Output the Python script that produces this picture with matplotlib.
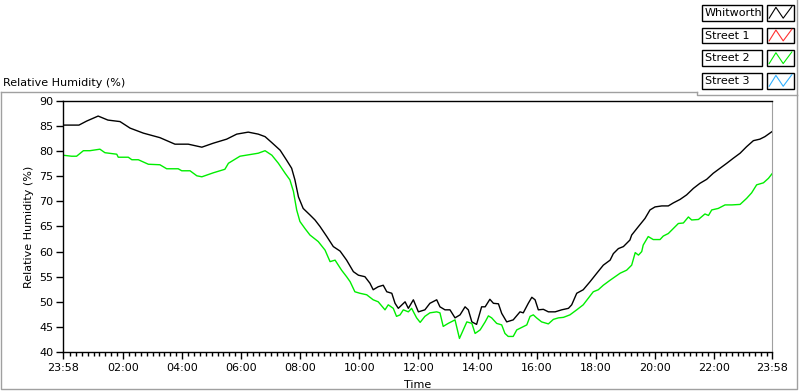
import matplotlib
matplotlib.use("Agg")
import matplotlib.pyplot as plt
from matplotlib.patches import Rectangle
from matplotlib.lines import Line2D

# hours since 23:58 (start of the record) and relative humidity (%)
whit_t = [0.00, 0.54, 0.80, 1.19, 1.52, 1.93, 2.27, 2.72, 3.28, 3.79, 4.24, 4.70,
          5.09, 5.54, 5.88, 6.27, 6.61, 6.84, 7.07, 7.35, 7.57, 7.74, 7.85, 7.97,
          8.13, 8.36, 8.53, 8.70, 8.93, 9.15, 9.38, 9.60, 9.83, 10.00, 10.22, 10.39,
          10.50, 10.67, 10.84, 10.96, 11.13, 11.24, 11.35, 11.58, 11.69, 11.86, 12.03,
          12.25, 12.42, 12.65, 12.76, 12.93, 13.10, 13.27, 13.44, 13.61, 13.72, 13.84,
          14.00, 14.17, 14.29, 14.45, 14.57, 14.74, 14.85, 15.02, 15.24, 15.47, 15.58,
          15.75, 15.87, 15.98, 16.09, 16.26, 16.43, 16.66, 16.88, 17.11, 17.22, 17.39,
          17.61, 17.84, 18.07, 18.29, 18.52, 18.63, 18.80, 18.97, 19.19, 19.25, 19.48,
          19.70, 19.87, 20.04, 20.27, 20.49, 20.66, 20.89, 21.11, 21.34, 21.56, 21.79,
          22.01, 22.24, 22.47, 22.69, 22.92, 23.14, 23.37, 23.59, 23.76, 24.00]
whit_rh = [85.2, 85.2, 86.0, 87.0, 86.2, 85.9, 84.6, 83.6, 82.7, 81.4, 81.4, 80.8,
           81.6, 82.4, 83.4, 83.8, 83.4, 82.9, 81.7, 80.2, 78.2, 76.6, 74.3, 70.9,
           68.6, 67.3, 66.3, 65.0, 63.0, 61.0, 60.1, 58.3, 56.0, 55.3, 55.0, 53.7,
           52.4, 53.0, 53.3, 52.0, 51.7, 49.7, 48.7, 50.0, 48.7, 50.4, 48.0,
           48.4, 49.7, 50.4, 49.0, 48.4, 48.4, 46.8, 47.4, 49.0, 48.4, 46.0,
           45.5, 49.0, 49.0, 50.5, 49.7, 49.6, 47.7, 46.0, 46.4, 48.0, 47.8,
           49.7, 50.9, 50.4, 48.4, 48.5, 48.0, 48.0, 48.4, 48.7, 49.4, 51.7,
           52.4, 54.0, 55.7, 57.3, 58.3, 59.6, 60.6, 61.0, 62.3, 63.3, 65.0,
           66.6, 68.3, 68.9, 69.1, 69.1, 69.7, 70.4, 71.3, 72.6, 73.6, 74.4,
           75.6, 76.6, 77.6, 78.6, 79.6, 80.9, 82.1, 82.4, 82.9, 83.9]

st2_t = [0.00, 0.29, 0.46, 0.69, 0.91, 1.25, 1.42, 1.82, 1.87, 2.21, 2.33, 2.55,
         2.89, 3.28, 3.51, 3.90, 4.02, 4.30, 4.53, 4.70, 5.09, 5.48, 5.60, 5.99,
         6.39, 6.61, 6.84, 7.07, 7.29, 7.52, 7.68, 7.80, 7.91, 8.02, 8.19, 8.36,
         8.64, 8.87, 9.04, 9.21, 9.43, 9.60, 9.72, 9.88, 10.05, 10.28, 10.50, 10.67,
         10.90, 11.01, 11.18, 11.29, 11.41, 11.52, 11.69, 11.80, 11.97, 12.09, 12.25,
         12.42, 12.65, 12.76, 12.87, 13.04, 13.27, 13.42, 13.55, 13.67, 13.84, 13.95,
         14.12, 14.29, 14.40, 14.51, 14.68, 14.85, 14.96, 15.07, 15.24, 15.36, 15.53,
         15.70, 15.81, 15.92, 16.03, 16.20, 16.43, 16.60, 16.77, 16.94, 17.16, 17.39,
         17.61, 17.78, 17.95, 18.12, 18.29, 18.52, 18.86, 19.08, 19.25, 19.37, 19.48,
         19.59, 19.64, 19.81, 19.98, 20.21, 20.32, 20.49, 20.66, 20.83, 21.00, 21.17,
         21.28, 21.51, 21.73, 21.85, 21.96, 22.18, 22.41, 22.64, 22.92, 23.14, 23.31,
         23.48, 23.71, 23.88, 24.00]
st2_rh = [79.2, 79.0, 79.0, 80.1, 80.1, 80.4, 79.7, 79.4, 78.8, 78.8, 78.3, 78.3,
          77.4, 77.3, 76.5, 76.5, 76.1, 76.1, 75.1, 74.9, 75.7, 76.4, 77.6, 79.0,
          79.4, 79.6, 80.1, 79.2, 77.6, 75.6, 74.3, 72.0, 68.3, 66.0, 64.6, 63.3,
          62.0, 60.3, 58.0, 58.3, 56.3, 55.0, 54.0, 52.0, 51.7, 51.4, 50.4, 50.0,
          48.4, 49.4, 48.7, 47.1, 47.4, 48.4, 48.0, 48.7, 46.8, 45.9, 47.1,
          47.8, 48.0, 47.8, 45.1, 45.7, 46.4, 42.7, 44.4, 46.0, 45.7, 43.7,
          44.4, 46.0, 47.2, 46.8, 45.7, 45.4, 43.7, 43.1, 43.1, 44.4, 44.9,
          45.4, 47.1, 47.4, 46.8, 46.0, 45.6, 46.5, 46.8, 46.9, 47.4, 48.4,
          49.4, 50.7, 52.0, 52.4, 53.3, 54.3, 55.7, 56.3, 57.3, 59.8, 59.3,
          60.0, 61.3, 63.0, 62.4, 62.4, 63.1, 63.6, 64.6, 65.6, 65.7, 66.9,
          66.3, 66.4, 67.5, 67.2, 68.3, 68.6, 69.3, 69.3, 69.4, 70.6, 71.7,
          73.3, 73.7, 74.6, 75.5]

series_names = ["Whitworth", "Street 1", "Street 2", "Street 3"]
series_colors = ["#000000", "#ff3030", "#00ee00", "#30b0ff"]

tick_pos = [0.0, 2.033, 4.033, 6.033, 8.033, 10.033, 12.033, 14.033, 16.033,
            18.033, 20.033, 22.033, 24.0]
tick_lab = ["23:58", "02:00", "04:00", "06:00", "08:00", "10:00", "12:00", "14:00",
            "16:00", "18:00", "20:00", "22:00", "23:58"]
y_ticks = [40, 45, 50, 55, 60, 65, 70, 75, 80, 85, 90]

W, H = 800, 392
fig = plt.figure(figsize=(W / 100, H / 100), dpi=100)
fig.patch.set_facecolor("white")

# overlay in pixel coordinates for the panel frame and the LabVIEW-style legend
ov = fig.add_axes([0, 0, 1, 1])
ov.set_xlim(0, W)
ov.set_ylim(H, 0)
ov.axis("off")
frame_c = "#a0a0a0"
ov.plot([1, 1, 797, 797], [92, 389, 389, 95], color=frame_c, lw=1)
ov.plot([1, 697], [92, 92], color=frame_c, lw=1)
ov.plot([697, 697, 797], [92, 95, 95], color=frame_c, lw=1)
ov.plot([797, 797], [0, 95], color=frame_c, lw=1)
ov.text(3, 83, "Relative Humidity (%)", fontsize=8, va="center", ha="left")

zig_x = [0.08, 0.33, 0.6, 0.92]
zig_y = [0.85, 0.15, 0.85, 0.1]
for i, (name, col) in enumerate(zip(series_names, series_colors)):
    y0 = 5 + i * 22.7
    ov.add_patch(Rectangle((702, y0), 60, 15.5, fill=False, ec="black", lw=1))
    ov.text(705, y0 + 8, name, fontsize=8, va="center", ha="left")
    ov.add_patch(Rectangle((767, y0), 27, 15.5, fill=False, ec="black", lw=1))
    ov.add_line(Line2D([767 + 27 * v for v in zig_x], [y0 + 15.5 * v for v in zig_y],
                       color=col, lw=0.8))

ax = fig.add_axes([63 / W, 1 - 352 / H, (772 - 63) / W, (352 - 101) / H])
ax.plot(whit_t, whit_rh, color=series_colors[0], lw=1.0)
ax.plot(st2_t, st2_rh, color=series_colors[2], lw=1.0)

ax.set_xlim(0, 24)
ax.set_ylim(40, 90)
ax.set_yticks(y_ticks)
ax.set_xticks(tick_pos)
ax.set_xticklabels(tick_lab)
minor = [t for t in [2.033 + 0.2 * k for k in range(-10, 120)]
         if 0 < t < 24 and all(abs(t - p) > 0.05 for p in tick_pos)]
ax.set_xticks(minor, minor=True)
ax.tick_params(axis="both", labelsize=8, direction="out", width=1, color="black")
ax.tick_params(axis="x", which="major", length=5, pad=3)
ax.tick_params(axis="x", which="minor", length=3, width=1)
ax.tick_params(axis="y", length=5, pad=2)
for s in ["left", "top", "bottom"]:
    ax.spines[s].set_color("black")
    ax.spines[s].set_linewidth(1)
ax.spines["right"].set_color(frame_c)
ax.set_ylabel("Relative Humidity (%)", fontsize=8, labelpad=4)
ax.set_xlabel("Time", fontsize=8, labelpad=5)

fig.savefig("out.png", dpi=100)
